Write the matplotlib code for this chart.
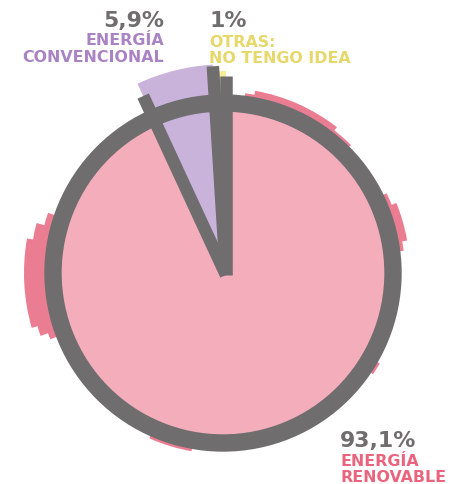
import matplotlib
matplotlib.use("Agg")
import matplotlib.pyplot as plt
import numpy as np
from matplotlib.patches import Circle, Wedge

# data, counterclockwise from 12 o'clock
labels = ["OTRAS:\nNO TENGO IDEA", "ENERGÍA\nCONVENCIONAL", "ENERGÍA\nRENOVABLE"]
values = [1.0, 5.9, 93.1]
value_text = ["1%", "5,9%", "93,1%"]
fill_colors = ["#f6ec9a", "#c9b3db", "#f3adbb"]
label_colors = ["#e6d86a", "#a983c3", "#e9647c"]
gray = "#6f6d6e"
bleed = "#eb7d92"

W, H = 459, 485
fig = plt.figure(figsize=(W / 100, H / 100), dpi=100)
ax = fig.add_axes([0, 0, 1, 1])

cx, cy = 223, H - 274      # ring centre
px, py = 226, H - 276      # spokes meet a bit right of it
r = 170

# watercolour bleed peeking out from behind the ring (stepped to look ragged)
bleeds = [(170, 196, 199), (165, 199, 193), (161, 201, 185),
          (52, 80, 185), (45, 83, 181),
          (10, 22, 187), (7, 26, 182),
          (246, 260, 181), (-34, -30, 181)]
for t1, t2, rout in bleeds:
    ax.add_patch(Wedge((cx, cy), rout, t1, t2, width=rout - r, facecolor=bleed,
                       edgecolor="none", zorder=1))

wedges, _ = ax.pie(values, startangle=90, counterclock=True, colors=fill_colors,
                   radius=r, center=(px, py), wedgeprops=dict(linewidth=0))
wedges[2].set_center((cx, cy))
# small slices stick out of the ring
wedges[0].set_radius(r * 1.2)
wedges[1].set_radius(r * 1.24)
for w in wedges[:2]:
    w.set_zorder(3)
wedges[2].set_zorder(2)

ax.add_patch(Circle((cx, cy), r, fill=False, edgecolor=gray, linewidth=12.5, zorder=4))

# spokes along the small slices' edges
spoke_len = [r * 1.17, r * 1.23, r * 1.16]
edges = [wedges[0].theta1, wedges[0].theta2, wedges[1].theta2]
for ang, ln in zip(edges, spoke_len):
    t = np.deg2rad(ang)
    ax.plot([px, px + ln * np.cos(t)], [py, py + ln * np.sin(t)], color=gray,
            linewidth=9, solid_capstyle="butt", zorder=5)

ax.set_xlim(0, W)
ax.set_ylim(0, H)
ax.set_aspect("auto")
ax.axis("off")

font = dict(family="DejaVu Sans", weight="bold")
big, small = 15.8, 11.4

# conventional (right aligned, top left)
ax.text(164, H - 27, value_text[1], color=gray, fontsize=big, ha="right", va="baseline", **font)
l1, l2 = labels[1].split("\n")
ax.text(164, H - 45, l1, color=label_colors[1], fontsize=small, ha="right", va="baseline", **font)
ax.text(164, H - 62, l2, color=label_colors[1], fontsize=small, ha="right", va="baseline", **font)

# other
ax.text(209, H - 27, value_text[0], color=gray, fontsize=big, ha="left", va="baseline", **font)
l1, l2 = labels[0].split("\n")
ax.text(209, H - 47, l1, color=label_colors[0], fontsize=small, ha="left", va="baseline", **font)
ax.text(209, H - 63, l2, color=label_colors[0], fontsize=small, ha="left", va="baseline", **font)

# renewable
ax.text(340, H - 447, value_text[2], color=gray, fontsize=big, ha="left", va="baseline", **font)
l1, l2 = labels[2].split("\n")
ax.text(340, H - 466, l1, color=label_colors[2], fontsize=small, ha="left", va="baseline", **font)
ax.text(340, H - 482, l2, color=label_colors[2], fontsize=small, ha="left", va="baseline", **font)

fig.savefig("out.png", dpi=100)
